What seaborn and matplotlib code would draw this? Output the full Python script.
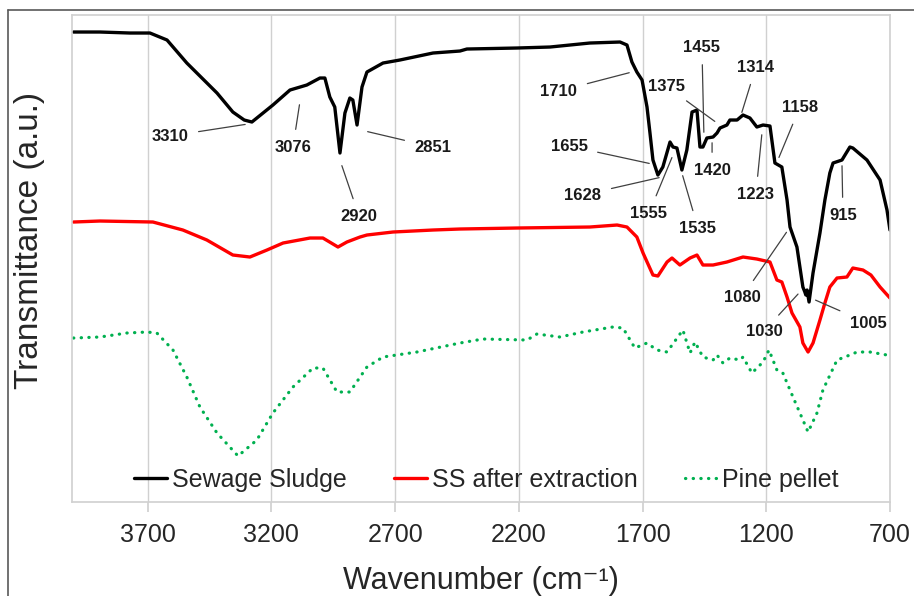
import numpy as np
import pandas as pd
import matplotlib
matplotlib.use("Agg")
import matplotlib.pyplot as plt
from matplotlib.lines import Line2D
import seaborn as sns

# --- data (wavenumber in cm-1, transmittance in arbitrary units) ---
sludge_wn = [4000, 3893, 3772, 3691, 3622, 3542, 3420, 3356, 3310, 3279, 3194, 3125,
             3057, 3004, 2984, 2964, 2944, 2923, 2903, 2883, 2871, 2854, 2834, 2814,
             2749, 2681, 2547, 2438, 2410, 2208, 2074, 1913, 1791, 1763, 1743, 1723,
             1702, 1682, 1670, 1658, 1638, 1618, 1589, 1577, 1561, 1541, 1521, 1500,
             1480, 1468, 1456, 1440, 1415, 1399, 1387, 1359, 1347, 1318, 1294, 1266,
             1238, 1213, 1185, 1165, 1137, 1116, 1104, 1076, 1052, 1044, 1040, 1035,
             1027, 1011, 983, 963, 943, 930, 894, 862, 850, 793, 740, 712, 700]
sludge_t = [470, 470, 469, 469, 462, 439, 409, 390, 382, 380, 397, 412,
            417, 424, 424, 405, 395, 349, 389, 404, 402, 377, 415, 430,
            439, 442, 449, 451, 453, 454, 455, 459, 460, 457, 440, 430,
            422, 395, 369, 342, 327, 335, 360, 355, 354, 332, 352, 390,
            392, 355, 355, 364, 365, 369, 374, 377, 382, 382, 387, 384,
            375, 377, 376, 339, 335, 302, 275, 255, 215, 210, 207, 212,
            200, 229, 269, 302, 329, 339, 342, 355, 354, 342, 322, 292, 272]

extracted_wn = [4000, 3893, 3679, 3558, 3461, 3356, 3287, 3218, 3153, 3044, 2992, 2931,
                2895, 2842, 2814, 2709, 2547, 2438, 2208, 1913, 1803, 1763, 1723, 1698,
                1658, 1638, 1601, 1581, 1549, 1508, 1480, 1456, 1415, 1359, 1294, 1238,
                1185, 1157, 1137, 1116, 1096, 1064, 1052, 1031, 1011, 983, 963, 943,
                914, 874, 850, 809, 777, 740, 700]
extracted_t = [280, 281, 280, 272, 262, 247, 245, 252, 259, 264, 264, 255,
               260, 265, 267, 270, 272, 273, 274, 275, 277, 275, 265, 249,
               227, 226, 240, 244, 237, 244, 247, 237, 237, 240, 245, 243,
               240, 222, 220, 205, 189, 175, 159, 150, 159, 182, 199, 215,
               224, 225, 234, 232, 227, 215, 204]

pine_wn = [4000, 3893, 3784, 3703, 3663, 3598, 3542, 3489, 3420, 3335, 3259, 3194,
           3113, 3032, 2992, 2935, 2883, 2814, 2749, 2612, 2438, 2345, 2167, 2127,
           2034, 1941, 1820, 1779, 1731, 1682, 1642, 1601, 1537, 1508, 1488, 1456,
           1415, 1399, 1375, 1347, 1306, 1294, 1258, 1213, 1189, 1157, 1133, 1092,
           1064, 1031, 995, 971, 914, 862, 833, 781, 712, 700]
pine_t = [164, 165, 169, 170, 169, 152, 125, 95, 69, 46, 62, 89,
          115, 134, 134, 110, 110, 135, 145, 150, 159, 163, 162, 168,
          165, 170, 175, 174, 154, 159, 152, 150, 172, 149, 160, 145,
          142, 147, 139, 144, 142, 145, 129, 140, 152, 132, 129, 105,
          89, 70, 89, 112, 142, 147, 150, 150, 147, 147]

series_names = ["Sewage Sludge", "SS after extraction", "Pine pellet"]
series_colors = ["#000000", "#FF0000", "#00B050"]

# peak labels: (label, peak wavenumber, peak transmittance)
peak_labels = ["3310", "3076", "2920", "2851", "1710", "1375", "1455", "1314", "1158",
               "1655", "1628", "1555", "1535", "1420", "1223", "915", "1080", "1030", "1005"]
peak_wn = [3295, 3085, 2919, 2822, 1743, 1399, 1452, 1302, 1153,
           1662, 1622, 1577, 1541, 1419, 1217, 894, 1112, 1064, 1011]
peak_t = [378, 400, 339, 371, 430, 379, 367, 387, 342,
          338, 325, 347, 329, 362, 370, 339, 272, 210, 203]
# where each label sits
label_wn = [3610, 3113, 2846, 2547, 2038, 1605, 1460, 1242, 1064,
            1997, 1941, 1674, 1476, 1419, 1242, 890, 1298, 1209, 789]
label_t = [366, 355, 286, 355, 411, 416, 455, 435, 395,
           356, 307, 289, 274, 332, 308, 287, 205, 171, 179]

df = pd.concat([
    pd.DataFrame({"wn": sludge_wn, "t": sludge_t, "sample": series_names[0]}),
    pd.DataFrame({"wn": extracted_wn, "t": extracted_t, "sample": series_names[1]}),
    pd.DataFrame({"wn": pine_wn, "t": pine_t, "sample": series_names[2]}),
])

sns.set_theme(style="white")
plt.rcParams["font.family"] = ["Liberation Sans", "DejaVu Sans"]

fig = plt.figure(figsize=(9.14, 5.96), dpi=100)
ax = fig.add_axes([0.0788, 0.1577, 0.8949, 0.8171])

styles = [dict(lw=2.4, ls="-"), dict(lw=2.4, ls="-"), dict(lw=2.3, ls=(0, (0.1, 2.3)))]
for name, color, st in zip(series_names, series_colors, styles):
    sub = df[df["sample"] == name]
    sns.lineplot(data=sub, x="wn", y="t", color=color, ax=ax, sort=False,
                 estimator=None, linewidth=st["lw"], linestyle=st["ls"],
                 dash_capstyle="round", label=name)

for lab, px, py, tx, ty in zip(peak_labels, peak_wn, peak_t, label_wn, label_t):
    ax.annotate(lab, xy=(px, py), xytext=(tx, ty), ha="center", va="center",
                fontsize=12, fontweight="bold", color="#1a1a1a",
                arrowprops=dict(arrowstyle="-", color="#404040", lw=0.9,
                                shrinkA=5, shrinkB=2))

ax.set_xlim(4006, 700)
ax.set_ylim(0, 487)
ax.set_xticks([3700, 3200, 2700, 2200, 1700, 1200, 700])
ax.set_yticks([])
ax.grid(axis="x", color="#d0d0d0", linewidth=1)
ax.set_axisbelow(True)
for sp in ax.spines.values():
    sp.set_color("#d0d0d0")
    sp.set_linewidth(1.2)
ax.tick_params(axis="x", length=7, color="#d0d0d0", labelsize=18, pad=8,
               direction="out", bottom=True)
ax.set_xlabel("Wavenumber (cm\u207b\u00b9)", fontsize=22, labelpad=14)
ax.set_ylabel("Transmittance (a.u.)", fontsize=24)
ax.yaxis.set_label_coords(-0.033, 0.537)

handles = [Line2D([], [], color=c, lw=s["lw"], ls=s["ls"], dash_capstyle="round")
           for c, s in zip(series_colors, styles)]
ax.legend(handles, series_names, loc="center", bbox_to_anchor=(0.507, 0.045),
          ncol=3, frameon=False, fontsize=18, handlelength=1.3,
          handletextpad=0.2, columnspacing=1.9)

# outer frame of the original figure
fig.add_artist(Line2D([8 / 914, 8 / 914], [0, 1 - 10 / 596], color="#595959", lw=1.2,
                      transform=fig.transFigure))
fig.add_artist(Line2D([8 / 914, 1], [1 - 10 / 596, 1 - 10 / 596], color="#595959",
                      lw=1.2, transform=fig.transFigure))

fig.savefig("out.png", dpi=100)
